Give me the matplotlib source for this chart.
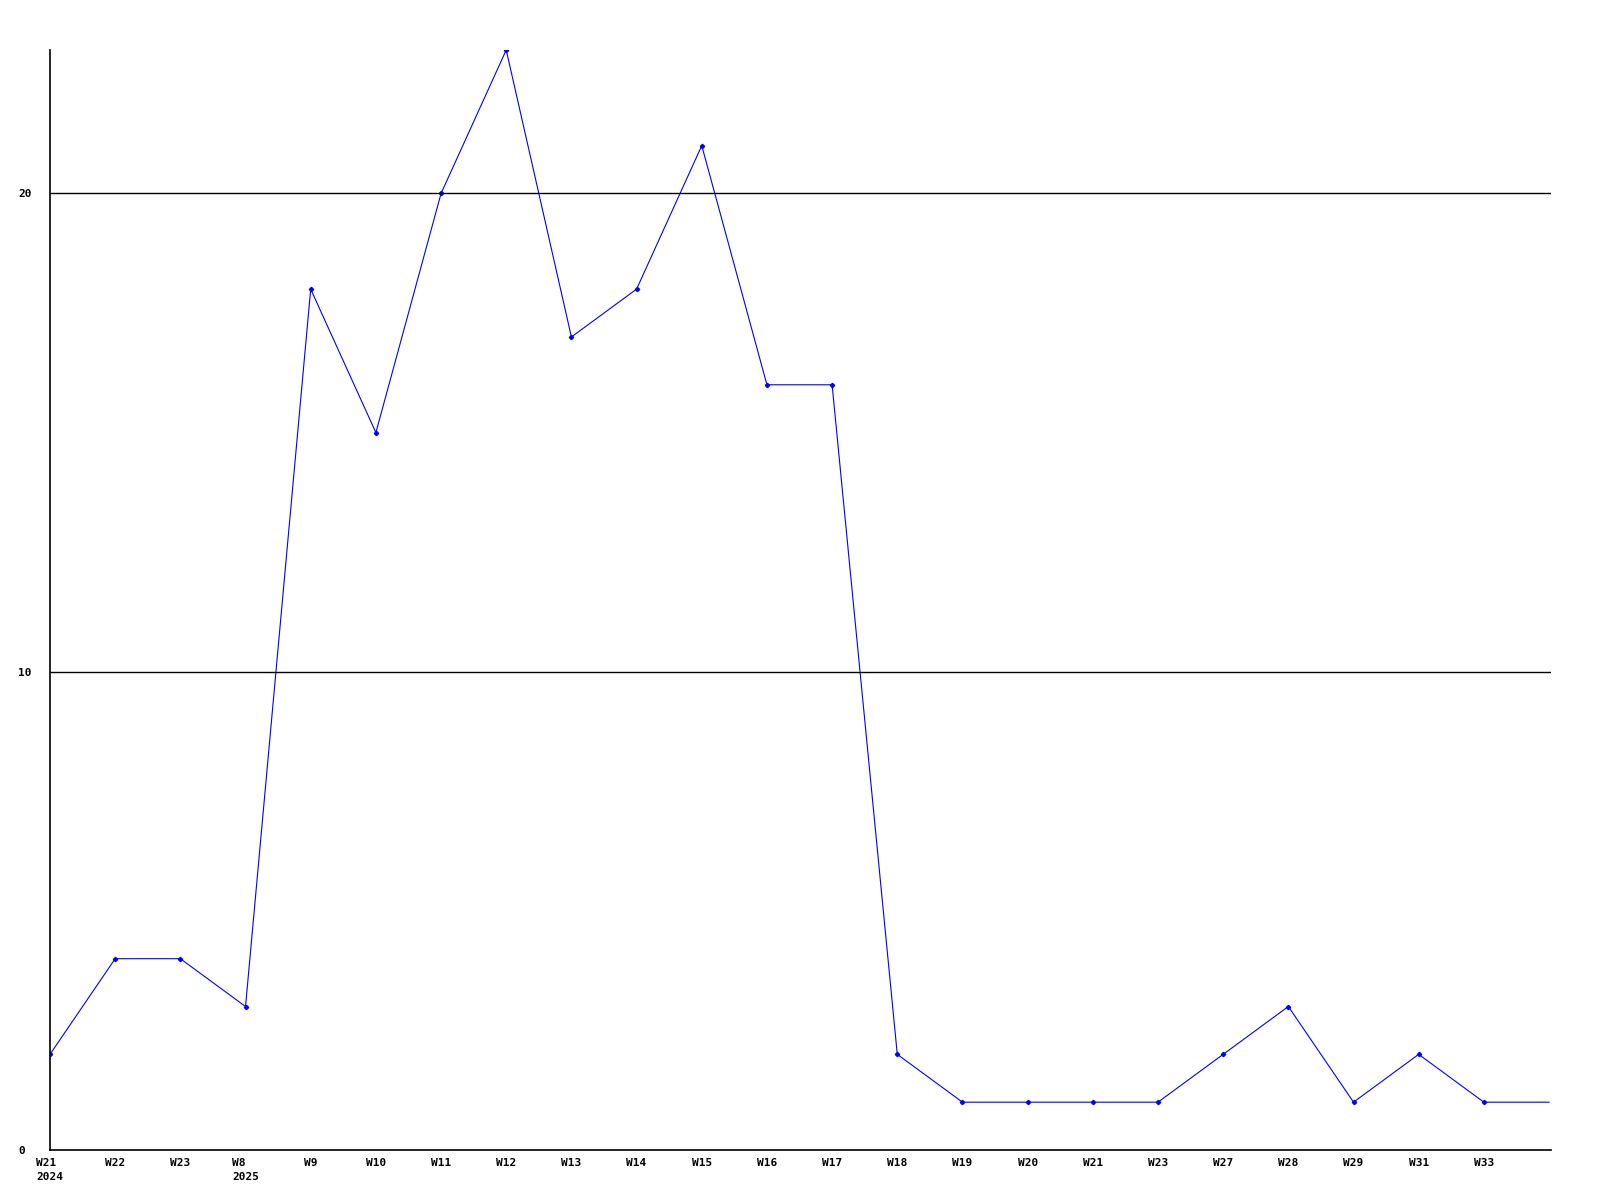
import matplotlib
matplotlib.use("Agg")
import matplotlib.pyplot as plt

# weekly counts, 2024 W21 .. 2025 W33
weeks = ["W21", "W22", "W23", "W8", "W9", "W10", "W11", "W12", "W13", "W14", "W15",
         "W16", "W17", "W18", "W19", "W20", "W21", "W23", "W27", "W28", "W29", "W31", "W33"]
years = {0: "2024", 3: "2025"}
values = [2, 4, 4, 3, 18, 15, 20, 23, 17, 18, 21,
          16, 16, 2, 1, 1, 1, 1, 2, 3, 1, 2, 1]
tail_value = 1  # line continues to the right edge
yticks = [0, 10, 20]

fig = plt.figure(figsize=(16, 12), dpi=100)
ax = fig.add_axes([50 / 1600, 50 / 1200, 1501 / 1600, 1100 / 1200])

n = len(values)
x = list(range(n))
ax.plot(x + [n], values + [tail_value], color="#0000ff", lw=0.8)
ax.plot(x, values, ls="none", marker="D", ms=2.2, color="#0000ff")

ax.set_xlim(0, n - 1 + 1.03)
ax.set_ylim(0, 23)

for y in yticks[1:]:
    ax.axhline(y, color="black", lw=1)

for s in ("top", "right"):
    ax.spines[s].set_visible(False)
for s in ("left", "bottom"):
    ax.spines[s].set_linewidth(1.2)

font = dict(family="DejaVu Sans Mono", weight="bold", size=8)
ax.set_xticks(x)
ax.set_xticklabels([w + ("\n" + years[i] if i in years else "") for i, w in enumerate(weeks)],
                   multialignment="left", linespacing=1.5, **font)
ax.set_yticks(yticks)
ax.set_yticklabels([str(v) for v in yticks], ha="left", **font)
ax.tick_params(axis="x", length=0, pad=6)
ax.tick_params(axis="y", length=0, pad=23)

fig.savefig("out.png", dpi=100)
